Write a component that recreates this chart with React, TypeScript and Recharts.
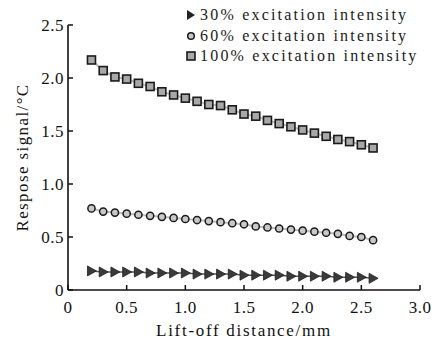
import React from 'react';
import { LineChart, Line, XAxis, YAxis } from 'recharts';

const distance = [0.2, 0.3, 0.4, 0.5, 0.6, 0.7, 0.8, 0.9, 1.0, 1.1, 1.2, 1.3, 1.4, 1.5, 1.6, 1.7, 1.8, 1.9, 2.0, 2.1, 2.2, 2.3, 2.4, 2.5, 2.6];
const intensity30 = [0.18, 0.17, 0.17, 0.17, 0.17, 0.16, 0.16, 0.16, 0.16, 0.15, 0.15, 0.15, 0.15, 0.14, 0.14, 0.14, 0.14, 0.13, 0.13, 0.13, 0.13, 0.12, 0.12, 0.12, 0.11];
const intensity60 = [0.77, 0.74, 0.73, 0.72, 0.71, 0.70, 0.69, 0.68, 0.67, 0.66, 0.65, 0.64, 0.63, 0.62, 0.60, 0.59, 0.58, 0.57, 0.56, 0.55, 0.54, 0.53, 0.51, 0.50, 0.47];
const intensity100 = [2.17, 2.07, 2.01, 1.99, 1.95, 1.92, 1.87, 1.84, 1.81, 1.78, 1.75, 1.74, 1.70, 1.66, 1.64, 1.60, 1.57, 1.54, 1.51, 1.48, 1.45, 1.42, 1.40, 1.37, 1.34];
const xTicks = [0, 0.5, 1.0, 1.5, 2.0, 2.5, 3.0];
const yTicks = [0, 0.5, 1.0, 1.5, 2.0, 2.5];
const legendNames = ['30% excitation intensity', '60% excitation intensity', '100% excitation intensity'];

const rows = distance.map((d, i) => ({
  d,
  s30: intensity30[i],
  s60: intensity60[i],
  s100: intensity100[i],
}));

const FONT = '"Liberation Serif", "Times New Roman", serif';
const fmt = (v: number) => (v === 0 ? '0' : v.toFixed(1));

interface DotProps {
  cx?: number;
  cy?: number;
  index?: number;
}

const SquareDot = ({ cx, cy, index }: DotProps) =>
  typeof cx === 'number' && typeof cy === 'number' ? (
    <rect key={`sq-${index}`} x={cx - 4} y={cy - 4} width={8} height={8} fill="#a8a8a8" stroke="#1a1a1a" strokeWidth={1.6} />
  ) : null;

const CircleDot = ({ cx, cy, index }: DotProps) =>
  typeof cx === 'number' && typeof cy === 'number' ? (
    <circle key={`ci-${index}`} cx={cx} cy={cy} r={3.6} fill="#c8c8c8" stroke="#1a1a1a" strokeWidth={1.5} />
  ) : null;

const TriDot = ({ cx, cy, index }: DotProps) =>
  typeof cx === 'number' && typeof cy === 'number' ? (
    <path key={`tr-${index}`} d={`M${cx - 4},${cy - 5}L${cx + 5},${cy}L${cx - 4},${cy + 5}Z`} fill="#3a3a3a" stroke="#222" strokeWidth={0.8} />
  ) : null;

const XTick = ({ x, y, payload }: any) => (
  <g>
    <line x1={x} x2={x} y1={y} y2={y - 5} stroke="#111" strokeWidth={1.5} />
    <text x={x} y={y + 23} textAnchor="middle" fontFamily={FONT} fontSize={17} letterSpacing={0.5} fill="#111">
      {fmt(payload.value)}
    </text>
  </g>
);

const YTick = ({ x, y, payload }: any) => (
  <g>
    <line x1={x} x2={x + 5} y1={y} y2={y} stroke="#111" strokeWidth={1.5} />
    <text x={x - 4} y={y} dy="0.35em" textAnchor="end" fontFamily={FONT} fontSize={17} letterSpacing={0.5} fill="#111">
      {fmt(payload.value)}
    </text>
  </g>
);

const legendIcons = [
  <path d="M2,1L10,6L2,11Z" fill="#222" />,
  <circle cx={6} cy={6} r={3.3} fill="#c8c8c8" stroke="#1a1a1a" strokeWidth={1.5} />,
  <rect x={2} y={2} width={8} height={8} fill="#a8a8a8" stroke="#1a1a1a" strokeWidth={1.6} />,
];

const App = () => (
  <div style={{ position: 'absolute', left: 0, top: 0, width: 437, height: 343, background: '#fff' }}>
    <LineChart width={437} height={343} data={rows} margin={{ top: 25, right: 17, bottom: 0, left: 0 }}>
      <XAxis
        dataKey="d"
        type="number"
        domain={[0, 3]}
        ticks={xTicks}
        height={53}
        tickSize={0}
        tickMargin={0}
        tickLine={false}
        tick={<XTick />}
        axisLine={{ stroke: '#111', strokeWidth: 1.6 }}
        label={{
          value: 'Lift-off distance/mm',
          position: 'insideBottom',
          offset: 7,
          style: { fontFamily: FONT, fontSize: 17, letterSpacing: '1.7px', fill: '#111' },
        }}
      />
      <YAxis
        type="number"
        domain={[0, 2.5]}
        ticks={yTicks}
        width={68}
        tickSize={0}
        tickMargin={0}
        tickLine={false}
        tick={<YTick />}
        axisLine={{ stroke: '#111', strokeWidth: 1.6 }}
        label={{
          value: 'Respose signal/°C',
          angle: -90,
          position: 'insideLeft',
          offset: 22,
          style: { fontFamily: FONT, fontSize: 17, letterSpacing: '1.4px', fill: '#111', textAnchor: 'middle' },
        }}
      />
      <Line dataKey="s100" type="linear" stroke="#bdbdbd" strokeWidth={2} dot={<SquareDot />} isAnimationActive={false} />
      <Line dataKey="s60" type="linear" stroke="#bdbdbd" strokeWidth={2} dot={<CircleDot />} isAnimationActive={false} />
      <Line dataKey="s30" type="linear" stroke="#555" strokeWidth={1.5} dot={<TriDot />} isAnimationActive={false} />
    </LineChart>
    <div style={{ position: 'absolute', left: 185, top: 5, fontFamily: FONT, fontSize: 16, letterSpacing: '2.2px', color: '#1a1a1a' }}>
      {legendNames.map((name, i) => (
        <div key={name} style={{ display: 'flex', alignItems: 'center', height: 20.5, whiteSpace: 'nowrap' }}>
          <svg width={12} height={12} style={{ marginRight: 3 }}>
            {legendIcons[i]}
          </svg>
          <span>{name}</span>
        </div>
      ))}
    </div>
  </div>
);

export default App;
